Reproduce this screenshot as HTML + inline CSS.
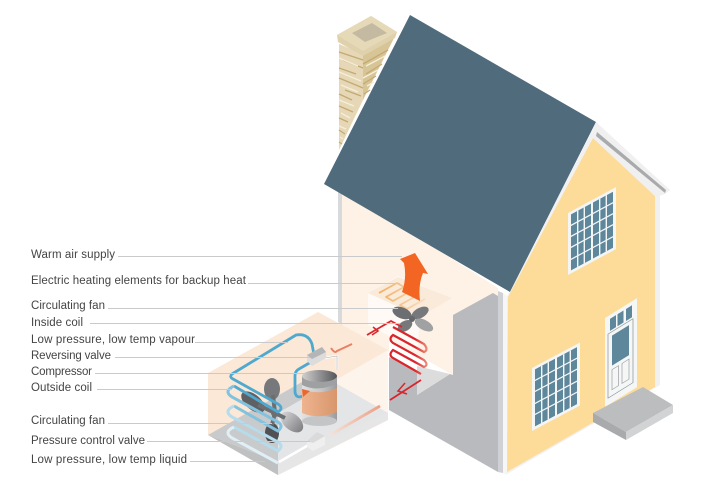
<!DOCTYPE html>
<html><head><meta charset="utf-8"><style>
html,body{margin:0;padding:0;background:#fff}
svg{display:block}
text{font-family:"Liberation Sans",sans-serif;font-size:11.5px;fill:#444}
</style></head><body>
<svg width="726" height="479" viewBox="0 0 726 479" xmlns="http://www.w3.org/2000/svg">
<defs>
<linearGradient id="cyl" x1="0" x2="1" y1="0" y2="0"><stop offset="0" stop-color="#e2e2e2"/><stop offset=".55" stop-color="#c6c6c8"/><stop offset="1" stop-color="#9a9b9d"/></linearGradient>
<linearGradient id="or" x1="0" x2="1" y1="0" y2="0"><stop offset="0" stop-color="#eeb48f"/><stop offset="1" stop-color="#d8966c"/></linearGradient>
<linearGradient id="cap" x1="0" x2="1" y1="0" y2="0"><stop offset="0" stop-color="#d0d0d0"/><stop offset="1" stop-color="#55565a"/></linearGradient>
<linearGradient id="redfade" gradientUnits="userSpaceOnUse" x1="392" y1="0" x2="430" y2="0"><stop offset="0" stop-color="#d8262c"/><stop offset=".6" stop-color="#d8262c"/><stop offset="1" stop-color="#f2a48c"/></linearGradient>
<linearGradient id="pipe" gradientUnits="userSpaceOnUse" x1="328" y1="0" x2="380" y2="0"><stop offset="0" stop-color="#f4e6dc"/><stop offset="1" stop-color="#ee9f83"/></linearGradient>
<linearGradient id="heat" gradientUnits="userSpaceOnUse" x1="378" y1="0" x2="425" y2="0"><stop offset="0" stop-color="#f2ad5e"/><stop offset="1" stop-color="#f9dcc0"/></linearGradient>
<linearGradient id="fanl" x1="0" x2="1" y1="0" y2="0"><stop offset="0" stop-color="#d2d2d4"/><stop offset="1" stop-color="#7f8083"/></linearGradient>
</defs>

<!-- interior wall -->
<polygon points="338,186 342,189 342,325 338,322" fill="#d8d9db"/>
<polygon points="342,189 498,288 498,296 453,320 453,375 389,339 389,352 342,326" fill="#fef1e5"/>
<!-- grey stair -->
<polygon points="453,315 493,293 498,296 498,472 389,410 389,357 417,373 417,395 450,374 453,375" fill="#b9babd"/>
<polygon points="417,366 450,374 417,395" fill="#dcdcdd"/>

<!-- heating plate and glow -->
<polygon points="368,293 398,276 452,298 420,317 417,352 389,336 368,325" fill="#fff" opacity=".65"/>
<polygon points="368,293 398,277 452,298 420,317" fill="#f9e6d2" opacity=".8"/>
<path d="M379,293 L397,283 L404,287 L386,297 L393,301 L411,291 L418,295 L400,305 L407,309 L425,299" fill="none" stroke="url(#heat)" stroke-width="1.800" stroke-linejoin="round"/>
<path d="M400,259 L415,253 L428,274 L423,273 Q418,285 420,301 L402,292 Q407,278 404,263 Z" fill="#f26522"/>

<!-- chimney -->
<polygon points="339,44 363,54 363,100 339,150" fill="#e6d8b6"/>
<polygon points="363,54 394,38 363,100" fill="#d8c596"/>
<g fill="none" stroke-width="1.300">
<path d="M339,52 L363,60 M343,60 L363,68 M339,68 L356,74 M339,78 L363,88 M345,90 L361,96 M339,94 L352,100 M339,106 L353,112 M339,118 L348,122 M339,130 L345,134 M339,142 L342,144 M363,64 L388,50 M366,74 L382,64 M363,84 L376,76 M364,94 L370,90" stroke="#c4a973"/>
<path d="M339,58 L358,66 M339,72 L361,81 M341,85 L358,92 M339,100 L354,106 M341,113 L350,118 M339,126 L346,129 M340,137 L343,139 M366,66 L385,56 M363,78 L378,70 M367,86 L374,82" stroke="#f5eed8"/>
</g>
<polygon points="371,16 397,32 395,38 363,56 338,42 337,35" fill="#dfd1ac"/>
<polygon points="371,16 397,32 363,51 337,35" fill="#e6d9b8"/>
<polygon points="372,23 387,33 365,42 352,33" fill="#c4b9a1"/>

<!-- roof -->
<polygon points="410,15 596,122 510,292 324,184" fill="#4f6b7c"/>

<!-- house corner -->
<polygon points="498,291 503,293 503,473 498,472" fill="#cfd1d4"/>
<polygon points="503,293 507,296 507,475 503,473" fill="#f6f6f7"/>
<!-- yellow wall -->
<polygon points="510,292 596,122 660,192 660,385 507,474 507,296" fill="#f1f1f2"/>
<polygon points="508,297 593,138 655,196 655,387 507,472" fill="#fddc9a"/>
<!-- eaves -->
<polygon points="596,122 670,190 665,194 656,197 593,138" fill="#f0f0f1"/>
<polygon points="597,132 666,190 665,193 596,136" fill="#a9aaac"/>

<!-- upper window -->
<g transform="matrix(1,-0.54,0,1,568,213)">
<rect width="48" height="62" fill="#f4f6f6"/>
<rect x="3" y="3" width="20" height="56" fill="#5f879c"/><rect x="25" y="3" width="20" height="56" fill="#5f879c"/>
<path d="M9.7,3V59M16.3,3V59M31.7,3V59M38.3,3V59M3,14H45M3,25H45M3,36H45M3,48H45" stroke="#f4f6f6" stroke-width="1.400" fill="none"/>
</g>
<!-- lower window -->
<g transform="matrix(1,-0.53,0,1,532,368)">
<rect width="48" height="63" fill="#f4f6f6"/>
<rect x="3" y="3" width="20" height="57" fill="#5f879c"/><rect x="25" y="3" width="20" height="57" fill="#5f879c"/>
<path d="M9.7,3V60M16.3,3V60M31.7,3V60M38.3,3V60M3,14H45M3,25H45M3,37H45M3,48H45" stroke="#f4f6f6" stroke-width="1.400" fill="none"/>
</g>
<!-- door -->
<g transform="matrix(1,-0.62,0,1,605,318)">
<rect width="32" height="89" fill="#f5f6f6"/>
<rect x="5" y="4" width="6" height="12" fill="#5f879c"/><rect x="12.500" y="4" width="6" height="12" fill="#5f879c"/><rect x="21" y="4" width="6" height="12" fill="#5f879c"/>
<rect x="3" y="18" width="25" height="64" fill="none" stroke="#8a8f93" stroke-width=".7"/>
<rect x="7" y="22" width="17" height="30" fill="#5f879c"/>
<rect x="7" y="56" width="6.500" height="20" fill="none" stroke="#9a9fa3" stroke-width=".7"/><rect x="17" y="56" width="7" height="20" fill="none" stroke="#9a9fa3" stroke-width=".7"/>
</g>
<!-- step -->
<polygon points="593,413 643,387 673,405 626,432" fill="#bcbdbf"/>
<polygon points="593,413 626,432 626,440 593,422" fill="#a9aaac"/>
<polygon points="626,432 673,405 673,413 626,440" fill="#d2d3d4"/>

<!-- outdoor unit faces -->
<polygon points="318,312 208,373 208,435 278,475 388,420 388,350" fill="#fbe8d7"/>
<!-- floor -->
<polygon points="208,435 318,373 388,413 278,462" fill="#c9cacc"/>
<polygon points="208,435 278,462 278,475" fill="#bfc0c2"/>
<polygon points="278,462 388,413 388,420 278,475" fill="#e6e6e7"/>
<!-- right translucent face -->
<polygon points="278,413 388,350 388,413 278,462" fill="#fff" opacity=".5"/>

<!-- outdoor fan -->
<g>
<ellipse cx="272" cy="389" rx="8" ry="11" fill="#77787b"/>
<ellipse cx="253" cy="402" rx="14" ry="7.500" fill="#5f6063" transform="rotate(40 253 402)"/>
<ellipse cx="272" cy="433" rx="7" ry="10" fill="#505155"/>
<ellipse cx="292" cy="422" rx="13" ry="8" fill="url(#fanl)" transform="rotate(40 292 422)"/>
<path d="M273,395 L275,413 M258,405 L275,413 M275,413 L272,425 M275,413 L285,418" stroke="#6d6e71" stroke-width="4" fill="none"/>
<circle cx="275" cy="413" r="4" fill="#6d6e71"/>
</g>

<!-- blue pipes -->
<path d="M314,355 L312,344 Q308,333 296,335 L232,374 Q229,377 233,379 L278,404 Q284,408 278,412 L234,386" fill="none" stroke="#4fa9cf" stroke-width="2.800" stroke-linejoin="round"/>
<path d="M311,362 L299,369 Q295,371 295,376 L295,392 Q296,399 303,396 L309,392" fill="none" stroke="#4fa9cf" stroke-width="2.800"/>
<path d="M234,386 Q223,391 232,397 L278,422 Q284,426 278,431 L234,406" fill="none" stroke="#82c2de" stroke-width="3"/>
<path d="M234,406 Q223,411 232,417 L278,442 Q284,446 278,451 L234,427" fill="none" stroke="#b5dcec" stroke-width="3"/>
<path d="M234,427 Q223,432 232,438 L278,463" fill="none" stroke="#e0eff5" stroke-width="3"/>
<path d="M279,462 L312,443" fill="none" stroke="#fff" stroke-width="2.600"/>
<path d="M330,435 L380,406" fill="none" stroke="url(#pipe)" stroke-width="2.800"/>
<path d="M325,358 L337,356 L337,370" fill="none" stroke="#fff" stroke-width="2.400"/>
<path d="M325,358 L337,356 L337,370" fill="none" stroke="#a9aaac" stroke-width=".6"/>

<!-- valves -->
<polygon points="307,355 322,347 326,352 326,358 312,366 307,361" fill="#dcdcdd"/>
<polygon points="307,355 322,347 326,352 312,359" fill="#b4b5b7"/>
<polygon points="307,441 317,432 325,436 325,445 313,451 307,447" fill="#efefef"/>
<polygon points="307,441 317,432 325,436 313,443" fill="#dadada"/>

<!-- compressor -->
<rect x="302" y="376" width="35" height="45" fill="url(#cyl)"/>
<ellipse cx="319.500" cy="421" rx="17.500" ry="5" fill="#c4c5c7"/>
<path d="M302,389 Q319,396 337,388 L337,412 Q319,420 302,413 Z" fill="url(#or)"/>
<path d="M302,376 L337,376 L337,383 Q319,393 302,385 Z" fill="#9fa0a2"/>
<ellipse cx="319.500" cy="376" rx="17.500" ry="6" fill="url(#cap)"/>
<path d="M302,389 L310,391 L303,397 Z" fill="#e8682e"/>

<!-- orange pipe -->
<path d="M331,348 Q335,354 337,351 L352,344" fill="none" stroke="#ea7f63" stroke-width="2"/>

<!-- indoor fan -->
<g>
<ellipse cx="402" cy="313" rx="10" ry="5.500" fill="#6d6e71" transform="rotate(22 402 313)"/>
<ellipse cx="420" cy="313" rx="9.500" ry="5" fill="#77787b" transform="rotate(-30 420 313)"/>
<ellipse cx="424" cy="325" rx="10" ry="5" fill="#a0a1a3" transform="rotate(28 424 325)"/>
<ellipse cx="405" cy="326" rx="8" ry="5" fill="#77787b" transform="rotate(-32 405 326)"/>
<circle cx="412" cy="319" r="3" fill="#66676a"/>
</g>

<!-- red pipes -->
<path d="M367,335 L391,321 L402,327" fill="none" stroke="#d8262c" stroke-width="1.800"/>
<path d="M373,327 L378,331 L372,335" fill="none" stroke="#d8262c" stroke-width="1.500"/>
<path d="M393,327 L424,344 Q429,350 424,352 L393,335 Q388,339 393,343 L424,360 Q429,365 424,367 L393,350 Q388,355 393,358 L421,374" fill="none" stroke="url(#redfade)" stroke-width="2.200"/>
<path d="M421,380 L390,400" fill="none" stroke="#d8262c" stroke-width="1.800"/>
<path d="M405,383 L398,391 L407,394" fill="none" stroke="#d8262c" stroke-width="1.500"/>

<!-- leader lines -->
<g stroke="#c9cacc" stroke-width="1" fill="none">
<path d="M118,256.500H402M248,283.500H400M108,308.500H398M90,323.500H400M195,342.500H288M115,357.500H310M95,373.500H305M97,389.500H232M108,423.500H272M147,441.500H310M190,461.500H265"/>
</g>

<!-- labels -->
<text x="31" y="258" textLength="84">Warm air supply</text>
<text x="31" y="284" textLength="215">Electric heating elements for backup heat</text>
<text x="31" y="309" textLength="74">Circulating fan</text>
<text x="31" y="326" textLength="52">Inside coil</text>
<text x="31" y="343" textLength="164">Low pressure, low temp vapour</text>
<text x="31" y="359" textLength="80">Reversing valve</text>
<text x="31" y="375" textLength="61">Compressor</text>
<text x="31" y="391" textLength="61">Outside coil</text>
<text x="31" y="424" textLength="74">Circulating fan</text>
<text x="31" y="444" textLength="114">Pressure control valve</text>
<text x="31" y="463" textLength="156">Low pressure, low temp liquid</text>
</svg>
</body></html>
